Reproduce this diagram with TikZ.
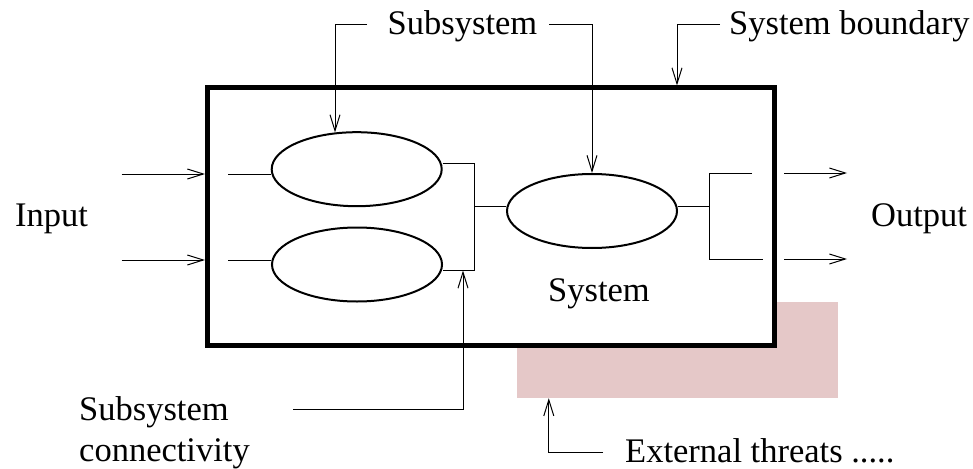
\documentclass[tikz,border=0pt]{standalone}
\usepackage{fontspec}
\setmainfont{Liberation Serif}
\usetikzlibrary{arrows.meta,calc,shapes.geometric}
\definecolor{threatpink}{RGB}{229,200,200}
\begin{document}
\begin{tikzpicture}[x=1pt,y=-1pt,
  thinline/.style={line width=1pt},
  arr/.style={thinline,-{Straight Barb[length=16pt,width=10pt]}},
  subsys/.style={draw,ellipse,line width=2pt,minimum width=170pt,minimum height=74pt,inner sep=0pt},
  lbl/.style={font=\fontsize{34.5}{42}\selectfont,inner sep=0pt}]
\useasboundingbox (0,0) rectangle (973,468);

% area of external threats, partly hidden behind the system
\node[fill=threatpink,minimum width=321pt,minimum height=96pt,inner sep=0pt] (threat) at (677.5,350) {};

% system boundary
\node[draw,line width=5pt,fill=white,minimum width=566.5pt,minimum height=257.5pt,inner sep=0pt] (sys) at (490.75,216.75) {};

% subsystems
\node[subsys] (e1) at (356.7,169.2) {};
\node[subsys] (e2) at (357,264.5) {};
\node[subsys] (e3) at (592,211) {};

% labels
\node[lbl,anchor=base] (sub) at (462.5,35) {Subsystem};
\node[lbl,anchor=base west] (bdytext) at (729,35) {System boundary};
\node[lbl,anchor=base west] (input) at (15,226.7) {Input};
\node[lbl,anchor=base west] (output) at (871,226.7) {Output};
\node[lbl,anchor=base] (systext) at (599,301.7) {System};
\node[lbl,anchor=base west] (conn1) at (79,420) {Subsystem};
\node[lbl,anchor=base west] (conn2) at (79,461) {connectivity};
\node[lbl,anchor=base west] (threattext) at (625,462) {External threats .....};

% inputs
\coordinate (in1) at (121.5,174);
\coordinate (in2) at (121.5,260);
\draw[arr] (in1) -- (in1 -| sys.west);
\draw[arr] (in2) -- (in2 -| sys.west);
\coordinate (i1) at (228,174);
\coordinate (i2) at (228,260);
\draw[thinline] (i1) -- ($(e1.west)+(0,4.8)$);
\draw[thinline] (i2) -- ($(e2.west)+(0,-4.5)$);

% connectivity between subsystems
\coordinate (j1) at (474,163);
\coordinate (j2) at (474,270);
\coordinate (j3) at (474,206);
\draw[thinline] ($(e1.east)+(0,-6.2)$) -- (j1) -- (j2) -- ($(e2.east)+(0,5.5)$);
\draw[thinline] (j3) -- ($(e3.west)+(0,-5)$);

% outputs
\coordinate (o0) at (709,206);
\coordinate (o1) at (709,173);
\coordinate (o2) at (709,259);
\coordinate (o1e) at (752,173);
\coordinate (o2e) at (763,259);
\draw[thinline] ($(e3.east)+(0,-5)$) -- (o0);
\draw[thinline] (o1e) -- (o1) -- (o2) -- (o2e);
\coordinate (out1) at (784,173);
\coordinate (out2) at (784,259);
\coordinate (out1e) at (847,173);
\coordinate (out2e) at (847,259);
\draw[arr] (out1) -- (out1e);
\draw[arr] (out2) -- (out2e);

% label pointers
\coordinate (sbL) at (367,25);
\coordinate (sbR) at (549,25);
\coordinate (bdy) at (720,25);
\coordinate (cn) at (293,409);
\coordinate (et) at (603,452);
\draw[arr] (sbL) -| ($(e1.north)+(-21.7,1.2)$);
\draw[arr] (sbR) -| (e3.north);
\draw[arr] (bdy) -| ($(sys.north)+(186.25,0)$);
\draw[arr] (cn) -| ($(j2)+(-11,0.5)$);
\draw[arr] (et) -| ($(threat.south west)+(32,0)$);
\end{tikzpicture}
\end{document}
